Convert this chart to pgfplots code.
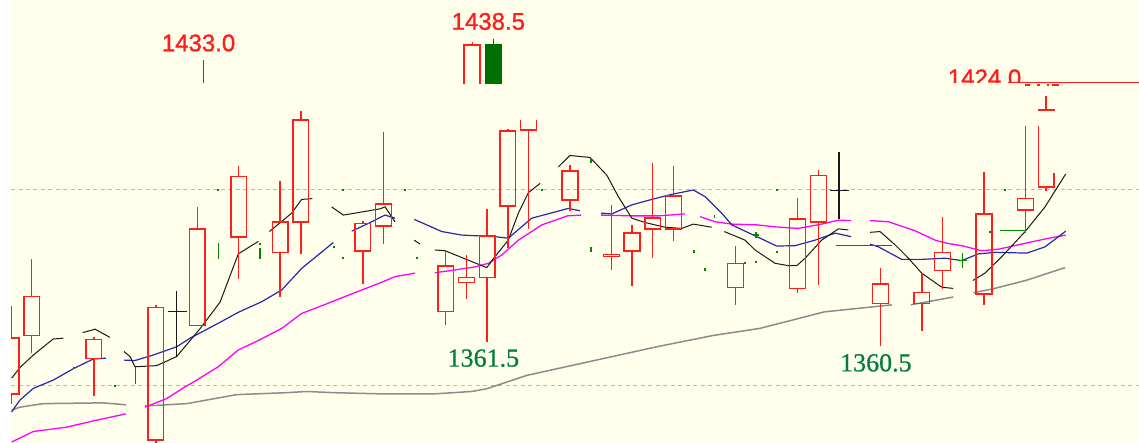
\documentclass[border=0pt]{standalone}
\usepackage{pgfplots}
\pgfplotsset{compat=1.18}
\usepackage{fontspec}
\newfontfamily\lsans[FakeBold=1.2]{Liberation Sans}
\newfontfamily\lserif[FakeBold=0.6]{Liberation Serif}
\definecolor{bgy}{RGB}{255,255,236}
\definecolor{cred}{RGB}{255,30,30}
\definecolor{cgreen}{RGB}{0,135,0}
\definecolor{dgreen}{RGB}{0,110,0}
\definecolor{cblue}{RGB}{40,40,170}
\definecolor{cmag}{RGB}{255,0,255}
\definecolor{cgray}{RGB}{140,140,140}
\definecolor{dashg}{RGB}{185,185,185}
\definecolor{lgreen}{RGB}{0,125,60}
\definecolor{cblack}{RGB}{25,25,25}
\pgfplotsset{
 cr/.style={draw=cred, line width=1.4pt, line cap=rect, line join=miter},
 cg/.style={draw=cgreen, line width=1.3pt},
 cgdot/.style={cgreen, only marks, mark=square*, mark size=0.55pt},
 mablack/.style={draw=cblack, line width=1pt},
 mablue/.style={draw=cblue, line width=1.2pt},
 mamag/.style={draw=cmag, line width=1.3pt},
 magray/.style={draw=cgray, line width=1.5pt},
}
% candle: index, low, bottom, top, high
\newcommand\cdl[5]{%
 \pgfmathsetmacro\cxl{#1-0.38}\pgfmathsetmacro\cxr{#1+0.38}%
 \addplot[cr] coordinates {(\cxl,#3) (\cxr,#3) (\cxr,#4) (\cxl,#4) (\cxl,#3)};
 \addplot[cr] coordinates {(#1,#4) (#1,#5)};
 \addplot[cr] coordinates {(#1,#2) (#1,#3)};
}
\begin{document}
\begin{tikzpicture}
\begin{axis}[width=1128pt,height=443pt,scale only axis,
 xmin=0,xmax=54.49,ymin=1335.46,ymax=1448.47,
 hide axis, clip mode=global, unbounded coords=jump]
% background
\addplot[fill=bgy,draw=none] coordinates {(0,1335.46) (54.49,1335.46) (54.49,1448.47) (0,1448.47)};
% dashed reference lines
\addplot[draw=dashg, line width=1pt, dash pattern=on 4pt off 3.5pt] coordinates {(0,1400) (54.49,1400)};
\addplot[draw=dashg, line width=1pt, dash pattern=on 4pt off 3.5pt] coordinates {(0,1350) (54.49,1350)};
% MA60 gray
\addplot[magray] coordinates {(0.03,1343.8) (0.43,1344.6) (1.56,1345.5) (4.46,1345.7) (5.56,1345.2)};
\addplot[magray] coordinates {(6.47,1344.9) (8.49,1345.5) (10.9,1347.8) (13.32,1348.3) (14.28,1348.6) (15.57,1348.3) (17.83,1348.0) (20.48,1348.0) (22.26,1348.6) (22.98,1349.3) (24.91,1352.7) (27.49,1355.7) (31.19,1360.0) (33.93,1362.9) (36.18,1364.7) (39.28,1368.9) (42.55,1370.7)};
\addplot[magray] coordinates {(43.46,1370.7) (45.52,1372.7)};
\addplot[magray] coordinates {(46.49,1373.8) (47.45,1374.8) (49.07,1377.0) (50.92,1380.2)};
% MA20 magenta
\addplot[mamag] coordinates {(0.03,1335.7) (1.08,1338.4) (2.69,1339.5) (3.98,1341.1) (5.56,1342.9)};
\addplot[mamag] coordinates {(6.47,1344.6) (7.52,1346.8) (8.41,1349.8) (8.81,1351.0) (10.01,1354.9) (10.98,1359.2) (11.95,1361.6) (13.08,1364.7) (14.04,1368.5) (15.17,1370.8) (16.46,1373.5) (17.83,1376.3) (18.55,1377.9) (19.52,1378.8)};
\addplot[mamag] coordinates {(20.48,1378.9) (21.45,1379.6) (22.42,1380.4) (23.06,1381.3) (23.7,1383.4) (24.51,1387.2) (25.64,1391.1) (26.88,1393.4) (27.54,1393.6)};
\addplot[mamag] coordinates {(28.5,1393.6) (29.99,1393.4) (31.27,1393.4) (32.56,1393.9)};
\addplot[mamag] coordinates {(33.29,1393.2) (34.01,1391.9) (34.82,1391.3) (36.04,1391.1) (36.91,1390.6) (38.03,1390.2) (39.16,1391.3) (39.97,1392.3) (40.58,1392.2)};
\addplot[mamag] coordinates {(41.5,1392.2) (42.38,1391.9) (43.67,1389.6) (44.64,1387.2) (45.22,1386.4) (45.93,1385.8) (46.89,1384.5) (47.7,1384.9) (48.99,1386.4) (49.95,1387.5) (50.95,1388.5)};
% MA10 blue
\addplot[mablue] coordinates {(0.03,1343.4) (0.43,1346.4) (1.08,1349.4) (2.04,1351.5) (3.04,1354.5) (3.98,1356.9) (4.59,1357.1)};
\addplot[mablue] coordinates {(5.46,1356.6) (5.99,1356.5) (6.87,1357.9) (8.0,1360.0) (8.65,1362.2) (10.01,1366.0) (10.98,1368.8) (12.11,1371.5) (13.08,1374.5) (14.04,1380.0) (15.57,1386.6)};
\addplot[mablue] coordinates {(16.46,1389.5) (17.43,1391.9) (17.83,1393.0) (18.07,1393.6) (18.55,1392.8)};
\addplot[mablue] coordinates {(19.48,1392.5) (20.81,1389.4) (21.77,1388.5) (23.38,1388.1) (24.02,1387.7) (25.15,1392.8) (26.92,1395.3) (27.49,1394.7)};
\addplot[mablue] coordinates {(28.5,1394.1) (29.02,1393.9) (29.99,1396.2) (30.95,1397.6) (31.92,1398.9) (32.96,1400.0) (33.53,1398.3) (34.33,1394.1) (34.82,1391.1) (35.46,1389.5) (35.99,1388.2) (36.99,1385.7) (37.87,1385.8) (38.84,1387.2) (39.81,1389.0) (40.58,1388.1)};
\addplot[mablue] coordinates {(41.5,1386.2) (41.9,1385.5) (43.03,1382.3) (43.99,1382.3) (45.12,1382.6) (45.93,1382.0) (46.73,1383.7) (47.54,1384.1) (49.07,1383.9) (49.95,1385.5) (50.95,1389.5)};
% MA5 black
\addplot[mablack] coordinates {(0.03,1352.0) (0.47,1354.9) (1.08,1357.9) (2.04,1362.0) (2.53,1362.2)};
\addplot[mablack] coordinates {(3.46,1363.6) (4.06,1364.5) (4.78,1362.4)};
\addplot[mablack] coordinates {(5.46,1358.8) (5.75,1357.5) (5.99,1354.9) (7.04,1355.2) (8.0,1357.5) (9.13,1364.6) (10.1,1371.4) (10.98,1383.7) (11.95,1386.9)};
\addplot[mablack] coordinates {(12.48,1389.4) (13.56,1394.1) (14.04,1397.6) (14.56,1397.8)};
\addplot[mablack] coordinates {(15.49,1395.7) (16.05,1393.6) (16.62,1394.1) (17.83,1395.2) (18.07,1395.7) (18.55,1391.9)};
\addplot[mablack] coordinates {(19.48,1387.2) (19.76,1386.2)};
\addplot[mablack] coordinates {(20.48,1384.7) (20.97,1384.5) (22.09,1382.1) (22.98,1380.2) (23.38,1383.0) (24.02,1387.2) (24.51,1394.1) (24.99,1399.3) (25.56,1401.7)};
\addplot[mablack] coordinates {(26.44,1405.9) (27.0,1408.8) (27.97,1408.3) (28.78,1403.8) (29.34,1398.3) (29.99,1392.8) (30.63,1391.7) (31.59,1390.5) (32.4,1390.2) (32.96,1391.3) (33.85,1390.5)};
\addplot[mablack] coordinates {(34.46,1389.4) (35.46,1387.2) (35.94,1384.7) (36.91,1381.3) (37.55,1380.7) (37.96,1380.7) (38.36,1382.6) (39.16,1387.2) (39.97,1390.1) (40.45,1389.8)};
\addplot[mablack] coordinates {(41.5,1389.2) (41.98,1389.4) (42.71,1386.0) (43.35,1382.6) (43.99,1378.8) (44.96,1375.2) (45.51,1374.9)};
\addplot[mablack] coordinates {(46.46,1376.9) (47.05,1378.8) (47.86,1383.0) (48.99,1389.4) (49.95,1395.7) (50.95,1404.1)};
% green (falling) candle remnants
\addplot[cg] coordinates {(6.02,1350.5) (6.02,1354.9)};
\addplot[cg] coordinates {(10.01,1382.3) (10.01,1386.6)};
\addplot[cg] coordinates {(12.03,1382.4) (12.03,1385.3)};
\addplot[cg] coordinates {(9.29,1427.2) (9.29,1433.2)};
\addplot[cg] coordinates {(45.97,1380.0) (45.97,1384.0)};
\addplot[cg] coordinates {(45.75,1382.1) (46.2,1382.1)};
\addplot[cg] coordinates {(35.99,1387.8) (35.99,1389.2)};
\addplot[cg] coordinates {(35.85,1388.5) (36.13,1388.5)};
\addplot[cg] coordinates {(39.86,1385.8) (42.55,1385.8)};
\addplot[cg] coordinates {(47.78,1389.6) (48.99,1389.6)};
\addplot[cg] coordinates {(28.02,1407.0) (28.02,1408.0)};
\addplot[cg] coordinates {(34.0,1392.9) (34.0,1393.6)};
\addplot[cg] coordinates {(28.02,1384.3) (28.02,1385.5)};
\addplot[cgdot] coordinates {(3.04,1354.7) (5.02,1350.0) (15.6,1385.5) (16.02,1382.7) (16.02,1400) (10.0,1400) (19.03,1400) (25.64,1400) (37.0,1400) (48.02,1400) (19.6,1382.7) (33.0,1384.4) (33.53,1379.8) (35.46,1381.4) (35.99,1381.6) (37.0,1384.3) (47.3,1389.4) (12.03,1386.2)};
% top green filled candle
\addplot[fill=dgreen, draw=dgreen, line width=1pt] coordinates {(22.92,1427.2) (23.68,1427.2) (23.68,1437.0) (22.92,1437.0)};
\addplot[draw=dgreen, line width=1.3pt] coordinates {(23.3,1437.0) (23.3,1438.6)};
% red candles
\cdl{0}{1345.7}{1348.0}{1362.2}{1370.2}
\cdl{1}{1358.6}{1362.9}{1372.8}{1382.1}
\cdl{4}{1347.7}{1357.0}{1361.9}{1362.3}
\cdl{7}{1335.5}{1336.2}{1370.1}{1370.5}
\cdl{9}{1365.4}{1365.4}{1390.0}{1395.5}
\cdl{11}{1377.6}{1388.0}{1403.4}{1405.9}
\cdl{13}{1372.8}{1384.0}{1391.8}{1402.2}
\cdl{14}{1383.9}{1391.8}{1417.9}{1420.0}
\cdl{17}{1376.2}{1384.4}{1391.5}{1391.9}
\cdl{18}{1386.4}{1390.8}{1396.4}{1414.5}
\cdl{21}{1365.7}{1369.0}{1380.6}{1384.3}
\cdl{22}{1372.4}{1376.4}{1377.7}{1383.2}
\cdl{23}{1361.5}{1377.7}{1388.3}{1395.1}
\cdl{24}{1385.5}{1395.9}{1415.1}{1415.5}
\cdl{27}{1394.9}{1397.4}{1404.8}{1406.3}
\cdl{29}{1379.8}{1383.0}{1383.5}{1396.1}
\cdl{30}{1375.8}{1384.4}{1389.0}{1390.9}
\cdl{31}{1382.8}{1390.0}{1392.9}{1406.8}
\cdl{32}{1387.1}{1390.0}{1398.5}{1405.9}
\cdl{35}{1370.9}{1375.2}{1381.3}{1385.5}
\cdl{38}{1373.8}{1374.9}{1392.6}{1397.9}
\cdl{39}{1375.9}{1391.8}{1403.7}{1404.9}
\cdl{42}{1360.5}{1371.1}{1376.0}{1379.8}
\cdl{44}{1364.3}{1371.1}{1373.9}{1378.6}
\cdl{45}{1374.9}{1379.4}{1384.1}{1393.0}
\cdl{47}{1370.9}{1373.5}{1393.9}{1404.5}
\cdl{49}{1389.2}{1394.9}{1397.8}{1416.1}
% broken red candles
\addplot[cr] coordinates {(24.62,1417.6) (24.62,1415.3) (25.39,1415.3) (25.39,1417.6)};
\addplot[cr] coordinates {(25.01,1415.3) (25.01,1390.3)};
\addplot[cr] coordinates {(21.88,1427.2) (21.88,1437.0) (22.66,1437.0) (22.66,1427.2)};
\addplot[cr] coordinates {(22.28,1437.0) (22.28,1437.6)};
\addplot[cr] coordinates {(49.62,1416.1) (49.62,1400.8) (50.38,1400.8) (50.38,1404.1)};
\addplot[cr] coordinates {(49.62,1420.4) (50.38,1420.4)};
\addplot[cr] coordinates {(50.0,1420.4) (50.0,1423.8)};
\addplot[cr] coordinates {(50.0,1400.8) (50.0,1399.8)};
% black doji candles
\addplot[draw=cblack, line width=1.3pt] coordinates {(8,1357.5) (8,1374.3)};
\addplot[draw=cblack, line width=1.3pt] coordinates {(7.6,1369.0) (8.49,1369.0)};
\addplot[draw=cblack, line width=1.3pt] coordinates {(40,1392.6) (40,1409.8)};
\addplot[draw=cblack, line width=1.3pt] coordinates {(39.57,1399.9) (40.48,1399.9)};
% top right red line and marks
\addplot[draw=cred, line width=1.5pt] coordinates {(48.16,1427.4) (54.49,1427.4)};
\addplot[draw=cred, line width=2.5pt] coordinates {(48.99,1426.8) (49.2,1426.8) (49.2,nan) (49.57,1426.8) (49.71,1426.8) (49.71,nan) (50.05,1426.8) (50.15,1426.8) (50.15,nan) (50.3,1426.8) (50.63,1426.8)};
% labels
\node[text=cred, font=\lsans\fontsize{24}{24}\selectfont, inner sep=0pt] at (axis cs:9.06,1437.5) {1433.0};
\node[text=cred, font=\lsans\fontsize{24}{24}\selectfont, inner sep=0pt] at (axis cs:23.06,1443.0) {1438.5};
\node[text=lgreen, font=\lserif\fontsize{26}{26}\selectfont, inner sep=0pt] at (axis cs:22.82,1357.1) {1361.5};
\node[text=lgreen, font=\lserif\fontsize{26}{26}\selectfont, inner sep=0pt] at (axis cs:41.78,1355.9) {1360.5};
\coordinate (lab) at (axis cs:47.03,1428.6);
\coordinate (clA) at (axis cs:45,1427.4);
\coordinate (clB) at (axis cs:50,1448.4);
\end{axis}
\begin{scope}
\clip (clA) rectangle (clB);
\node[text=cred, font=\lsans\fontsize{24}{24}\selectfont, inner sep=0pt] at (lab) {1424.0};
\end{scope}
\pgfresetboundingbox
\fill[white] ([xshift=-11pt]current axis.south west) rectangle (current axis.north west);
\path ([xshift=-11pt]current axis.south west) rectangle (current axis.north east);
\end{tikzpicture}
\end{document}
